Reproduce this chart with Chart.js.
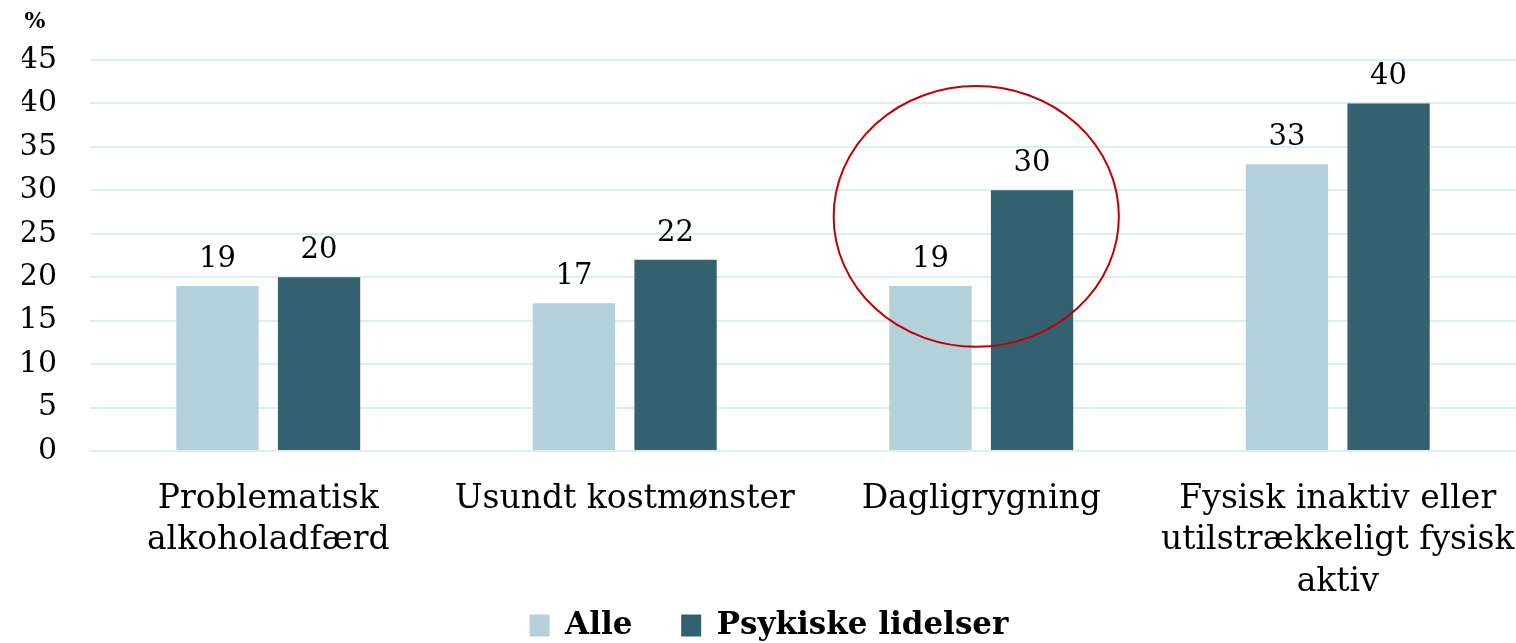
<!DOCTYPE html>
<html lang="da">
<head>
<meta charset="utf-8">
<title>Sundhedsadfærd</title>
<script src="https://cdn.jsdelivr.net/npm/chart.js@4.4.1/dist/chart.umd.min.js"></script>
<style>
    html, body { margin: 0; padding: 0; background: #fff; }
    #wrap { width: 1516px; height: 643px; position: relative; }
</style>
</head>
<body>
<div id="wrap"><canvas id="mainChart"></canvas></div>
<script>
// data
const kategorier = [
    ['Problematisk', 'alkoholadfærd'],
    'Usundt kostmønster',
    'Dagligrygning',
    ['Fysisk inaktiv eller', 'utilstrækkeligt fysisk', 'aktiv']
];
const alle = [19, 17, 19, 33];
const psykiske = [20, 22, 30, 40];
const serieNavne = ['Alle', 'Psykiske lidelser'];
const enhed = '%';

// markering (rød ellipse) omkring dagligrygning
const markeretKategori = 2;

const FONT = "'DejaVu Serif', Georgia, serif";

// tal over søjlerne
const dataLabels = {
    id: 'dataLabels',
    afterDatasetsDraw(chart) {
        const ctx = chart.ctx;
        ctx.save();
        ctx.font = '29px ' + FONT;
        ctx.fillStyle = '#000';
        ctx.textAlign = 'center';
        ctx.textBaseline = 'bottom';
        chart.data.datasets.forEach((ds, i) => {
            chart.getDatasetMeta(i).data.forEach((bar, j) => {
                ctx.fillText(ds.data[j], bar.x, bar.y - 12);
            });
        });
        ctx.restore();
    }
};

// rød ellipse + procenttegn
const markering = {
    id: 'markering',
    afterDraw(chart) {
        const ctx = chart.ctx;
        const x = chart.scales.x;
        const y = chart.scales.y;
        const bredde = x.getPixelForValue(1) - x.getPixelForValue(0);
        const cx = x.getPixelForValue(markeretKategori) - 5;
        const cy = y.getPixelForValue(27);
        const rx = bredde * 0.4;
        const ry = y.getPixelForValue(0) - y.getPixelForValue(15);
        ctx.save();
        ctx.strokeStyle = '#C00000';
        ctx.lineWidth = 2;
        ctx.beginPath();
        ctx.ellipse(cx, cy, rx, ry, 0, 0, Math.PI * 2);
        ctx.stroke();

        ctx.font = 'bold 22px ' + FONT;
        ctx.fillStyle = '#000';
        ctx.textAlign = 'center';
        ctx.textBaseline = 'middle';
        ctx.fillText(enhed, 35, 22);
        ctx.restore();
    }
};

document.addEventListener('DOMContentLoaded', () => {
    const ctx = document.getElementById('mainChart').getContext('2d');
    new Chart(ctx, {
        type: 'bar',
        data: {
            labels: kategorier,
            datasets: [
                {
                    label: serieNavne[0],
                    data: alle,
                    backgroundColor: '#B3D0DB',
                    categoryPercentage: 0.57,
                    barPercentage: 0.81
                },
                {
                    label: serieNavne[1],
                    data: psykiske,
                    backgroundColor: '#336170',
                    categoryPercentage: 0.57,
                    barPercentage: 0.81
                }
            ]
        },
        options: {
            responsive: true,
            maintainAspectRatio: false,
            animation: false,
            layout: { padding: { top: 60, left: 22, right: 0, bottom: -8 } },
            scales: {
                x: {
                    grid: { display: false, drawTicks: false },
                    border: { color: '#DDEDF4', width: 2 },
                    ticks: {
                        color: '#000',
                        padding: 27,
                        maxRotation: 0,
                        minRotation: 0,
                        autoSkip: false,
                        font: { family: FONT, size: 33, lineHeight: 1.27 }
                    },
                    afterFit(scale) {
                        scale.paddingLeft = 0;
                        scale.paddingRight = 0;
                        scale.height = 149;
                    }
                },
                y: {
                    min: 0,
                    max: 45,
                    grid: { color: '#DDEDF4', lineWidth: 2, drawTicks: false },
                    border: { display: false },
                    ticks: {
                        stepSize: 5,
                        color: '#000',
                        padding: 33,
                        font: { family: FONT, size: 30 }
                    },
                    afterFit(scale) {
                        scale.width = 68;
                    }
                }
            },
            plugins: {
                legend: {
                    position: 'bottom',
                    labels: {
                        boxWidth: 20,
                        boxHeight: 22,
                        padding: 10,
                        color: '#000',
                        font: { family: FONT, size: 31, weight: 'bold' },
                        generateLabels(chart) {
                            const items = Chart.defaults.plugins.legend.labels.generateLabels(chart);
                            // ekstra luft mellem de to forklaringer
                            items[0].text += '\u2003\u2005';
                            return items;
                        }
                    }
                },
                tooltip: { enabled: false }
            }
        },
        plugins: [dataLabels, markering]
    });
});
</script>
</body>
</html>
